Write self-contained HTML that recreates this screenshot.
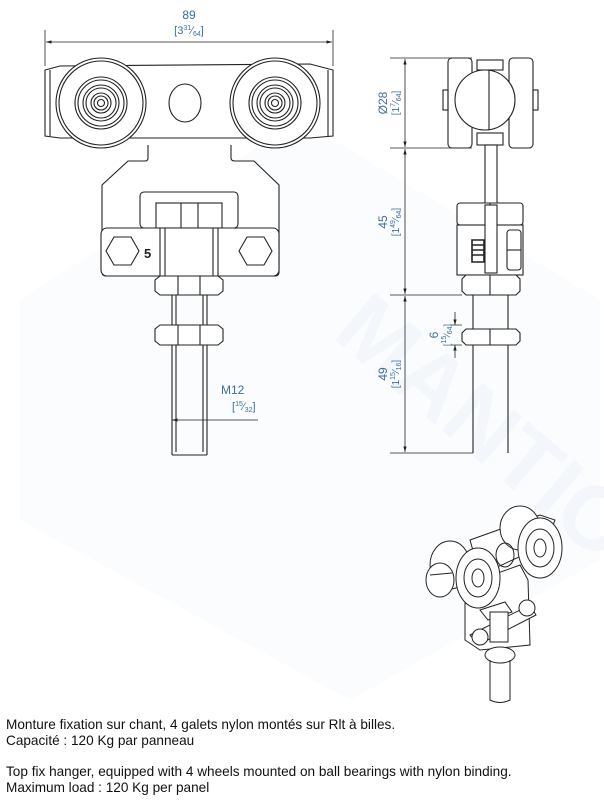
<!DOCTYPE html>
<html><head><meta charset="utf-8"><style>
body{margin:0;background:#fff;}
svg{display:block;}
.t{font-family:"Liberation Sans",sans-serif;}
</style></head><body>
<svg width="604" height="800" viewBox="0 0 604 800" xmlns="http://www.w3.org/2000/svg">
<defs>
<marker id="a" viewBox="0 0 10 10" refX="10" refY="5" markerWidth="7" markerHeight="7" orient="auto-start-reverse"><path d="M0,2 L10,5 L0,8 z" fill="#222"/></marker>
</defs>
<!-- watermark -->
<g opacity="0.025" fill="#3a6ea5">
<path d="M20,300 L300,120 L600,300 L600,560 L350,700 L20,520 z"/>
</g>
<text x="300" y="420" class="t" font-size="90" font-weight="bold" fill="#f3f6fa" transform="rotate(40 430 420)">MANTION</text>

<g fill="none" stroke="#222" stroke-width="1.1">
<line x1="45" y1="30" x2="45" y2="66" stroke-width="0.8"/>
<line x1="333" y1="30" x2="333" y2="66" stroke-width="0.8"/>
<line x1="46" y1="42" x2="332" y2="42" stroke-width="0.8" marker-start="url(#a)" marker-end="url(#a)"/>
<path d="M45,70 L60,66 L310,64 L333,70 L333,136 L310,138 L60,138 L45,136 z" fill="#fff"/>
<line x1="50" y1="70" x2="50" y2="136"/>
<line x1="328" y1="70" x2="328" y2="136"/>
<circle cx="101" cy="103" r="45" fill="#fff"/>
<circle cx="101" cy="103" r="42"/>
<circle cx="101" cy="103" r="26"/>
<circle cx="101" cy="103" r="23"/>
<circle cx="101" cy="103" r="18"/>
<circle cx="101" cy="103" r="15"/>
<circle cx="101" cy="103" r="10"/>
<circle cx="101" cy="103" r="7"/>
<circle cx="101" cy="103" r="3.5"/>
<circle cx="275" cy="103" r="45" fill="#fff"/>
<circle cx="275" cy="103" r="42"/>
<circle cx="275" cy="103" r="26"/>
<circle cx="275" cy="103" r="23"/>
<circle cx="275" cy="103" r="18"/>
<circle cx="275" cy="103" r="15"/>
<circle cx="275" cy="103" r="10"/>
<circle cx="275" cy="103" r="7"/>
<circle cx="275" cy="103" r="3.5"/>
<ellipse cx="185" cy="103" rx="16" ry="19"/>
<path d="M148,145 L148,158 Q148,161 145,161 L128,161 L102,185 L102,272 Q102,276 106,276 L275,276 Q279,276 279,272 L279,185 L254,161 L235,161 Q231,161 231,158 L231,145" fill="#fff"/>
<rect x="140" y="192" width="98" height="36" rx="4"/>
<rect x="156" y="203" width="66" height="25"/>
<line x1="181" y1="203" x2="181" y2="228"/>
<line x1="198" y1="203" x2="198" y2="228"/>
<rect x="101" y="228" width="178" height="48" rx="6" fill="#fff"/>
<line x1="160" y1="228" x2="160" y2="276"/>
<line x1="218" y1="228" x2="218" y2="276"/>
<line x1="165" y1="228" x2="165" y2="276"/>
<line x1="213" y1="228" x2="213" y2="276"/>
<polygon points="106,251 114,237 131,237 139,251 131,265 114,265"/>
<polygon points="239,251 247,237 264,237 272,251 264,265 247,265"/>
<path d="M155,280 L160,276 L218,276 L223,280 L223,291 L218,295 L160,295 L155,291 z" fill="#fff"/>
<line x1="178" y1="276" x2="178" y2="295"/><line x1="200" y1="276" x2="200" y2="295"/>
<line x1="172" y1="295" x2="172" y2="455"/>
<line x1="207" y1="295" x2="207" y2="455"/>
<line x1="176" y1="295" x2="176" y2="325"/><line x1="203" y1="295" x2="203" y2="325"/>
<line x1="176" y1="345" x2="176" y2="452"/><line x1="203" y1="345" x2="203" y2="452"/>
<line x1="172" y1="455" x2="207" y2="455"/>
<path d="M155,329 L160,325 L218,325 L223,329 L223,341 L218,345 L160,345 L155,341 z" fill="#fff"/>
<line x1="178" y1="325" x2="178" y2="345"/><line x1="200" y1="325" x2="200" y2="345"/>
<line x1="172" y1="418" x2="172" y2="428" stroke-width="0.8"/>
<line x1="172" y1="420" x2="258" y2="420" stroke-width="0.8" marker-start="url(#a)"/>

<line x1="390" y1="58" x2="472" y2="58" stroke-width="0.7"/>
<line x1="390" y1="148" x2="472" y2="148" stroke-width="0.7"/>
<line x1="390" y1="295" x2="462" y2="295" stroke-width="0.7"/>
<line x1="390" y1="453" x2="473" y2="453" stroke-width="0.7"/>
<line x1="405" y1="59" x2="405" y2="147" stroke-width="0.8" marker-start="url(#a)" marker-end="url(#a)"/>
<line x1="405" y1="149" x2="405" y2="294" stroke-width="0.8" marker-start="url(#a)" marker-end="url(#a)"/>
<line x1="405" y1="296" x2="405" y2="452" stroke-width="0.8" marker-start="url(#a)" marker-end="url(#a)"/>
<line x1="450" y1="325" x2="462" y2="325" stroke-width="0.7"/>
<line x1="450" y1="345" x2="462" y2="345" stroke-width="0.7"/>
<line x1="455" y1="312" x2="455" y2="325" stroke-width="0.8" marker-end="url(#a)"/>
<line x1="455" y1="358" x2="455" y2="345" stroke-width="0.8" marker-end="url(#a)"/>
<rect x="448" y="58" width="24" height="90" rx="4" fill="#fff"/>
<rect x="509" y="58" width="24" height="90" rx="4" fill="#fff"/>
<rect x="443" y="90" width="5" height="20"/><rect x="533" y="90" width="5" height="20"/>
<rect x="477" y="60" width="26" height="10"/>
<rect x="477" y="133" width="26" height="12"/>
<circle cx="485" cy="100" r="30" fill="#fff"/>
<line x1="489" y1="70" x2="489" y2="130"/>
<rect x="485" y="145" width="12" height="60" fill="#fff"/>
<rect x="457" y="203" width="66" height="22" rx="3" fill="#fff"/>
<line x1="490" y1="203" x2="490" y2="225"/>
<rect x="457" y="225" width="66" height="50" fill="#fff"/>
<rect x="485" y="205" width="12" height="68" fill="#fff"/>
<rect x="507" y="230" width="14" height="40" rx="3"/>
<line x1="507" y1="250" x2="521" y2="250"/>
<path d="M472,240 L484,240 L484,262 L472,262 z M472,245 L484,245 M472,250 L484,250 M472,255 L484,255" stroke-width="1.6"/>
<path d="M462,279 L466,275 L516,275 L520,279 L520,291 L516,295 L466,295 L462,291 z" fill="#fff"/>
<line x1="490" y1="275" x2="490" y2="295"/>
<line x1="473" y1="295" x2="473" y2="453"/><line x1="508" y1="295" x2="508" y2="453"/>
<path d="M462,333 L466,329 L516,329 L520,333 L520,341 L516,345 L466,345 L462,341 z" fill="#fff"/>
<line x1="490" y1="329" x2="490" y2="345"/>

<g stroke-width="1">
<path d="M470,540 L540,515 L555,520 L545,545 L480,575 z" fill="#fff"/>
<ellipse cx="520" cy="528" rx="20" ry="22" fill="#fff"/>
<path d="M465,585 L520,565 L528,580 L530,645 L480,650 L465,640 z" fill="#fff"/>
<ellipse cx="450" cy="565" rx="20" ry="24" fill="#fff"/>
<ellipse cx="440" cy="580" rx="14" ry="17" fill="#fff"/>
<line x1="430" y1="575" x2="452" y2="573"/>
<ellipse cx="540" cy="548" rx="22" ry="30" fill="#fff"/>
<ellipse cx="540" cy="548" rx="14" ry="19"/>
<ellipse cx="540" cy="548" rx="6" ry="9"/>
<ellipse cx="505" cy="555" rx="9" ry="12"/>
<ellipse cx="478" cy="578" rx="22" ry="30" fill="#fff"/>
<ellipse cx="478" cy="578" rx="14" ry="19"/>
<ellipse cx="478" cy="578" rx="6" ry="9"/>
<path d="M480,610 L505,602 L512,612 L488,620 z" fill="#fff"/>
<path d="M470,635 L530,605 L536,615 L478,645 z" fill="#fff"/>
<circle cx="527" cy="608" r="8" fill="#fff"/>
<circle cx="480" cy="637" r="8" fill="#fff"/>
<rect x="490" y="612" width="18" height="30" fill="#fff"/>
<ellipse cx="500" cy="655" rx="15" ry="8" fill="#fff"/>
<path d="M490,660 L490,700 Q500,705 510,700 L510,660"/>
</g>
</g>

<g class="t" fill="#3a6ea5">
<text x="189" y="19" font-size="12" text-anchor="middle">89</text>
<text x="189" y="34" font-size="11" text-anchor="middle">[3<tspan font-size="7" dy="-4">31</tspan><tspan dy="4">⁄</tspan><tspan font-size="7" dy="2">64</tspan><tspan dy="-2">]</tspan></text>
<text x="221" y="394" font-size="12">M12</text>
<text x="232" y="410" font-size="11">[<tspan font-size="7" dy="-4">15</tspan><tspan dy="4">⁄</tspan><tspan font-size="7" dy="2">32</tspan><tspan dy="-2">]</tspan></text>
<g transform="translate(387,103) rotate(-90)"><text x="0" y="0" font-size="12" text-anchor="middle">Ø28</text><text x="0" y="12" font-size="10" text-anchor="middle">[1<tspan font-size="7" dy="-4">7</tspan><tspan dy="4">⁄</tspan><tspan font-size="7" dy="2">64</tspan><tspan dy="-2">]</tspan></text></g>
<g transform="translate(387,222) rotate(-90)"><text x="0" y="0" font-size="12" text-anchor="middle">45</text><text x="0" y="12" font-size="10" text-anchor="middle">[1<tspan font-size="7" dy="-4">49</tspan><tspan dy="4">⁄</tspan><tspan font-size="7" dy="2">64</tspan><tspan dy="-2">]</tspan></text></g>
<g transform="translate(387,374) rotate(-90)"><text x="0" y="0" font-size="12" text-anchor="middle">49</text><text x="0" y="12" font-size="10" text-anchor="middle">[1<tspan font-size="7" dy="-4">15</tspan><tspan dy="4">⁄</tspan><tspan font-size="7" dy="2">16</tspan><tspan dy="-2">]</tspan></text></g>
<g transform="translate(438,335) rotate(-90)"><text x="0" y="0" font-size="12" text-anchor="middle">6</text><text x="0" y="12" font-size="9" text-anchor="middle">[<tspan font-size="7" dy="-4">15</tspan><tspan dy="4">⁄</tspan><tspan font-size="7" dy="2">64</tspan><tspan dy="-2">]</tspan></text></g>
</g>
<text x="144" y="258" class="t" font-size="13" font-weight="bold" fill="#222">5</text>

<g class="t" font-size="13.6" fill="#111">
<text x="6" y="729">Monture fixation sur chant, 4 galets nylon montés sur Rlt à billes.</text>
<text x="6" y="745">Capacité : 120 Kg par panneau</text>
<text x="6" y="776">Top fix hanger, equipped with 4 wheels mounted on ball bearings with nylon binding.</text>
<text x="6" y="792">Maximum load : 120 Kg per panel</text>
</g>
</svg>
</body></html>
